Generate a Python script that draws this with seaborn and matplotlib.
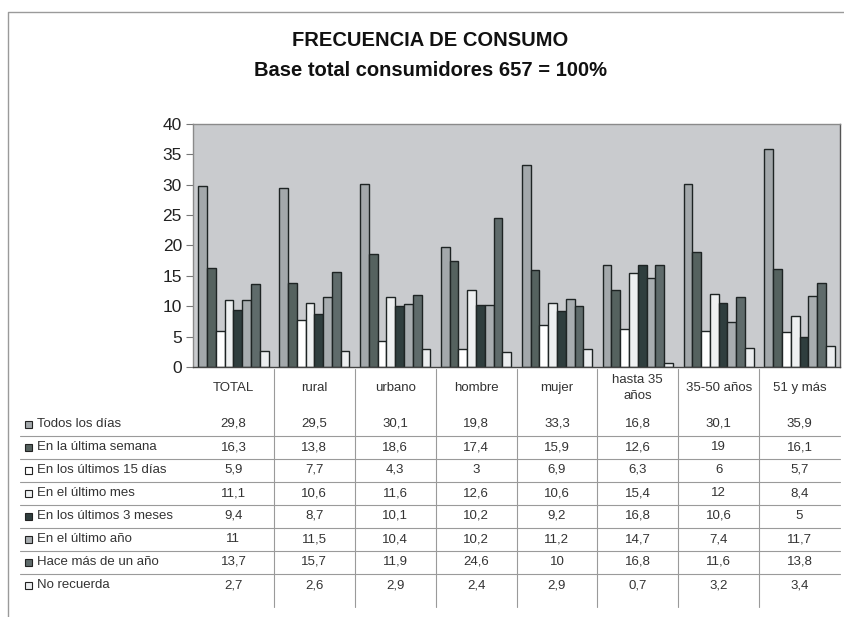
import matplotlib
matplotlib.use("Agg")
import matplotlib.pyplot as plt
import matplotlib.transforms as mtrans
from matplotlib.patches import Rectangle
from matplotlib.lines import Line2D
import seaborn as sns
import pandas as pd

categories = ["TOTAL", "rural", "urbano", "hombre", "mujer", "hasta 35\naños", "35-50 años", "51 y más"]
series_names = ["Todos los días", "En la última semana", "En los últimos 15 días", "En el último mes",
                "En los últimos 3 meses", "En el último año", "Hace más de un año", "No recuerda"]
todos_los_dias = [29.8, 29.5, 30.1, 19.8, 33.3, 16.8, 30.1, 35.9]
ultima_semana = [16.3, 13.8, 18.6, 17.4, 15.9, 12.6, 19, 16.1]
ultimos_15_dias = [5.9, 7.7, 4.3, 3, 6.9, 6.3, 6, 5.7]
ultimo_mes = [11.1, 10.6, 11.6, 12.6, 10.6, 15.4, 12, 8.4]
ultimos_3_meses = [9.4, 8.7, 10.1, 10.2, 9.2, 16.8, 10.6, 5]
ultimo_anio = [11, 11.5, 10.4, 10.2, 11.2, 14.7, 7.4, 11.7]
mas_de_un_anio = [13.7, 15.7, 11.9, 24.6, 10, 16.8, 11.6, 13.8]
no_recuerda = [2.7, 2.6, 2.9, 2.4, 2.9, 0.7, 3.2, 3.4]
series_values = [todos_los_dias, ultima_semana, ultimos_15_dias, ultimo_mes,
                 ultimos_3_meses, ultimo_anio, mas_de_un_anio, no_recuerda]
y_ticks = [0, 5, 10, 15, 20, 25, 30, 35, 40]

colors = ["#a3a8ab", "#55625f", "#ffffff", "#eef0f1", "#2f3e3e", "#a8adb0", "#5f6b6b", "#eceef0"]

rows = []
for name, vals in zip(series_names, series_values):
    for c, v in zip(categories, vals):
        rows.append({"cat": c, "serie": name, "val": v})
df = pd.DataFrame(rows)

sns.set_theme(style="white")
plt.rcParams['font.family'] = ['Liberation Sans', 'DejaVu Sans']

W, H = 845, 617
fig = plt.figure(figsize=(W / 100, H / 100), dpi=100)
fig.patch.set_facecolor("white")

L, R, T, B = 193, 840, 124, 367
ax = fig.add_axes([L / W, 1 - B / H, (R - L) / W, (B - T) / H])
ax.set_facecolor("#c9cbce")

sns.barplot(data=df, x="cat", y="val", hue="serie", order=categories, hue_order=series_names,
            palette=colors, width=0.87, gap=0, edgecolor="#1e2424", linewidth=1.0,
            legend=False, ax=ax, saturation=1)

ax.set_ylim(0, 40)
ax.set_xlim(-0.5, len(categories) - 0.5)
ax.set_yticks(y_ticks)
ax.set_yticklabels([str(t) for t in y_ticks], fontsize=12.5, color="#222222")
ax.tick_params(axis="y", left=True, length=5, width=0.8, color="#777777", pad=3)
ax.set_xticks([])
ax.set_xlabel("")
ax.set_ylabel("")
for s in ["top", "left", "bottom"]:
    ax.spines[s].set_color("#8a8a8a")
    ax.spines[s].set_linewidth(1.0)
ax.spines["right"].set_color("#555555")
ax.spines["right"].set_linewidth(1.0)
ax.spines["bottom"].set_color("#444444")

# Titles
fig.text(430 / W, 1 - 40 / H, "FRECUENCIA DE CONSUMO", ha="center", va="center",
         fontsize=14.5, fontweight="bold", color="#111111")
fig.text(430 / W, 1 - 70 / H, "Base total consumidores 657 = 100%", ha="center", va="center",
         fontsize=14.5, fontweight="bold", color="#111111")

# Outer frame
fig.add_artist(Line2D([8 / W, 8 / W, 1.0], [0.0, 1 - 12 / H, 1 - 12 / H],
                      transform=fig.transFigure, color="#9a9a9a", linewidth=1.0))

# Data table
tr = mtrans.blended_transform_factory(ax.transData, fig.transFigure)
def fy(py):
    return 1 - py / H

FS = 9.5
for i, c in enumerate(categories):
    fig.text(i, fy(388), c, transform=tr, ha="center", va="center", fontsize=FS,
             color="#333333", linespacing=1.4)

row_y0, row_step = 424, 23
for r, (name, vals) in enumerate(zip(series_names, series_values)):
    yy = row_y0 + r * row_step
    fig.add_artist(Rectangle((25 / W, fy(yy + 3.5)), 7 / W, 7 / H, transform=fig.transFigure,
                             facecolor=colors[r], edgecolor="#222222", linewidth=0.8))
    fig.text(37 / W, fy(yy), name, ha="left", va="center", fontsize=FS, color="#333333")
    for i, v in enumerate(vals):
        txt = (f"{v:g}").replace(".", ",")
        fig.text(i, fy(yy), txt, transform=tr, ha="center", va="center", fontsize=FS,
                 color="#333333")
    if r < len(series_names) - 1:
        fig.add_artist(Line2D([20 / W, 840 / W], [fy(yy + 11.5)] * 2, transform=fig.transFigure,
                              color="#9a9a9a", linewidth=0.8))

for k in range(len(categories) - 1):
    fig.add_artist(Line2D([k + 0.5, k + 0.5], [fy(369), fy(607)], transform=tr,
                          color="#9a9a9a", linewidth=0.8))

fig.savefig("out.png", dpi=100)
